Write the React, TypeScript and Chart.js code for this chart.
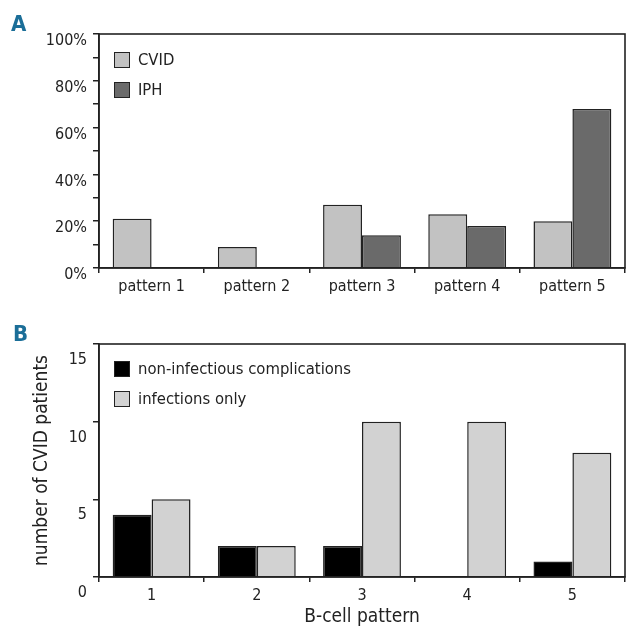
import React, { useEffect, useRef } from "react";
import { Chart, registerables } from "chart.js";

Chart.register(...registerables);

// Panel A data
const patternLabels = ["pattern 1", "pattern 2", "pattern 3", "pattern 4", "pattern 5"];
const cvidPercent = [21, 9, 27, 23, 20];
const iphPercent = [0, 0, 14, 18, 68];
const percentTicks = [0, 20, 40, 60, 80, 100];

// Panel B data
const bCellLabels = ["1", "2", "3", "4", "5"];
const nonInfectious = [4, 2, 2, 0, 1];
const infectionsOnly = [5, 2, 10, 10, 8];
const countTicks = [0, 5, 10, 15];

const FONT = "'Liberation Sans Narrow', 'DejaVu Sans Condensed', 'Roboto Condensed', Roboto, sans-serif";
const INK = "#222222";
const CVID_COLOR = "#c2c2c2";
const IPH_COLOR = "#6a6a6a";
const NONINF_COLOR = "#000000";
const INFONLY_COLOR = "#d2d2d2";
const PANEL_BLUE = "#1b6e98";

const boxPlugin = {
  id: "boxPlugin",
  afterDraw(chart: any) {
    const { ctx, chartArea } = chart;
    ctx.save();
    ctx.strokeStyle = INK;
    ctx.lineWidth = 1.6;
    ctx.strokeRect(chartArea.left, chartArea.top, chartArea.right - chartArea.left, chartArea.bottom - chartArea.top);
    ctx.restore();
  },
};

function makeOptions(opts: {
  max: number;
  step: number;
  labelSet: number[];
  fmt: (v: number) => string;
  labelOffset: number;
  top: number;
  xHeight: number;
  xPad: number;
  xTitle?: string;
  yTitle?: string;
}) {
  return {
    responsive: true,
    maintainAspectRatio: false,
    animation: false as const,
    layout: { padding: { left: 0, right: 1, top: opts.top, bottom: 0 } },
    plugins: { legend: { display: false }, tooltip: { enabled: false }, title: { display: false } },
    datasets: { bar: { categoryPercentage: 0.74, barPercentage: 1.0 } },
    scales: {
      x: {
        offset: true,
        grid: { display: true, offset: true, drawOnChartArea: false, drawTicks: true, tickLength: 5, color: INK, lineWidth: 1.5 },
        border: { display: true, color: INK, width: 1.6 },
        ticks: { color: INK, font: { family: FONT, size: 16 }, padding: opts.xPad, maxRotation: 0 },
        title: opts.xTitle
          ? { display: true, text: opts.xTitle, color: INK, font: { family: FONT, size: 19 }, padding: { top: 0, bottom: 0 } }
          : { display: false },
        afterFit(scale: any) {
          scale.height = opts.xHeight;
        },
      },
      y: {
        min: 0,
        max: opts.max,
        grid: { display: true, drawOnChartArea: false, drawTicks: true, tickLength: 6, color: INK, lineWidth: 1.5 },
        border: { display: true, color: INK, width: 1.6 },
        ticks: {
          stepSize: opts.step,
          color: INK,
          font: { family: FONT, size: 16 },
          padding: 6,
          labelOffset: opts.labelOffset,
          callback: (v: any) => (opts.labelSet.includes(Number(v)) ? opts.fmt(Number(v)) : ""),
        },
        title: opts.yTitle
          ? { display: true, text: opts.yTitle, color: INK, font: { family: FONT, size: 19 }, padding: { top: 31, bottom: 0 } }
          : { display: false },
        afterFit(scale: any) {
          scale.width = 99;
        },
      },
    },
  };
}

function LegendItem({ color, text, top }: { color: string; text: string; top: number }) {
  return (
    <div style={{ position: "absolute", left: 114, top, height: 16, display: "flex", alignItems: "center" }}>
      <div style={{ width: 14, height: 14, background: color, border: `1.5px solid ${INK}` }} />
      <div style={{ marginLeft: 8, fontFamily: FONT, fontSize: 16.5, color: INK, lineHeight: "16px", whiteSpace: "nowrap" }}>{text}</div>
    </div>
  );
}

export default function App() {
  const refA = useRef<HTMLCanvasElement>(null);
  const refB = useRef<HTMLCanvasElement>(null);

  useEffect(() => {
    const chartA = new Chart(refA.current!, {
      type: "bar",
      data: {
        labels: patternLabels,
        datasets: [
          { label: "CVID", data: cvidPercent, backgroundColor: CVID_COLOR, borderColor: INK, borderWidth: 1.5 },
          { label: "IPH", data: iphPercent, backgroundColor: IPH_COLOR, borderColor: INK, borderWidth: 1.5 },
        ],
      },
      options: makeOptions({
        max: 100,
        step: 10,
        labelSet: percentTicks,
        fmt: (v) => `${v}%`,
        labelOffset: 7,
        top: 34,
        xHeight: 32,
        xPad: 4,
      }) as any,
      plugins: [boxPlugin],
    });
    const chartB = new Chart(refB.current!, {
      type: "bar",
      data: {
        labels: bCellLabels,
        datasets: [
          { label: "non-infectious complications", data: nonInfectious, backgroundColor: NONINF_COLOR, borderColor: INK, borderWidth: 1.5 },
          { label: "infections only", data: infectionsOnly, backgroundColor: INFONLY_COLOR, borderColor: INK, borderWidth: 1.5 },
        ],
      },
      options: makeOptions({
        max: 15,
        step: 5,
        labelSet: countTicks,
        fmt: (v) => `${v}`,
        labelOffset: 16,
        top: 44,
        xHeight: 51,
        xPad: 4,
        xTitle: "B-cell pattern",
        yTitle: "number of CVID patients",
      }) as any,
      plugins: [boxPlugin],
    });
    return () => {
      chartA.destroy();
      chartB.destroy();
    };
  }, []);

  return (
    <div style={{ position: "absolute", left: 0, top: 0, width: 626, height: 628, background: "#fff" }}>
      <div style={{ position: "absolute", left: 0, top: 0, width: 626, height: 300 }}>
        <canvas ref={refA} />
      </div>
      <div style={{ position: "absolute", left: 0, top: 300, width: 626, height: 328 }}>
        <canvas ref={refB} />
      </div>
      <div style={{ position: "absolute", left: 11, top: 12, fontFamily: "'DejaVu Sans Condensed', 'Liberation Sans Narrow', sans-serif", fontWeight: 700, fontSize: 22, color: PANEL_BLUE, lineHeight: "24px" }}>A</div>
      <div style={{ position: "absolute", left: 13, top: 322, fontFamily: "'DejaVu Sans Condensed', 'Liberation Sans Narrow', sans-serif", fontWeight: 700, fontSize: 22, color: PANEL_BLUE, lineHeight: "24px" }}>B</div>
      <LegendItem color={CVID_COLOR} text="CVID" top={52} />
      <LegendItem color={IPH_COLOR} text="IPH" top={82} />
      <LegendItem color={NONINF_COLOR} text="non-infectious complications" top={361} />
      <LegendItem color={INFONLY_COLOR} text="infections only" top={391} />
    </div>
  );
}
